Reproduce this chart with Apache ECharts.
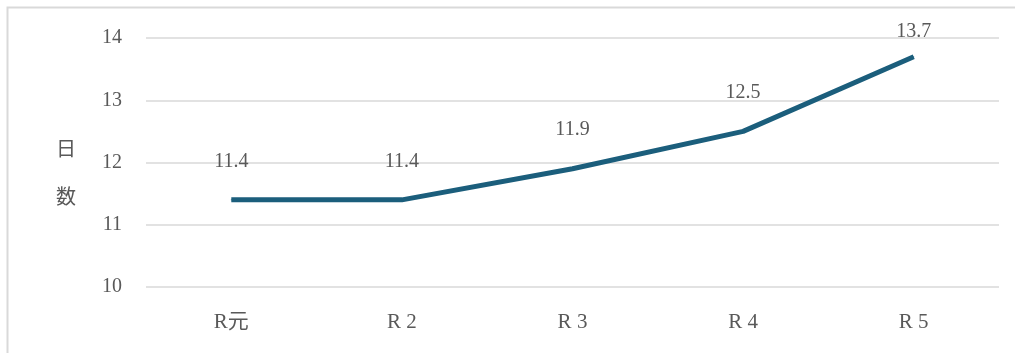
<!DOCTYPE html>
<html>
<head>
<meta charset="utf-8">
<script src="https://cdn.jsdelivr.net/npm/echarts@6/dist/echarts.min.js"></script>
<style>
  html, body { margin: 0; padding: 0; background: #fff; }
  #chart { position: absolute; left: 0; top: 0; width: 1015px; height: 353px; }
</style>
</head>
<body>
<div id="chart"></div>
<script>
  const categories = ['R元', 'R 2', 'R 3', 'R 4', 'R 5']
  const days = [11.4, 11.4, 11.9, 12.5, 13.7]
  const yTicks = [10, 11, 12, 13, 14]

  const font = '"Liberation Serif", "Noto Sans CJK JP", serif'
  const chart = echarts.init(document.getElementById('chart'))

  // labels near the top of the plot sit closer to the line (like Excel)
  const seriesData = days.map(v => v > 13.5 ? { value: v, label: { distance: 14 } } : v)

  chart.setOption({
    backgroundColor: '#fff',
    animation: false,
    graphic: [{
      type: 'rect',
      shape: { x: 7.5, y: 7.5, width: 1020, height: 360 },
      style: { fill: 'none', stroke: '#d9d9d9', lineWidth: 2 },
      silent: true
    }],
    grid: {
      left: 146,
      right: 16,
      top: 38,
      bottom: 66
    },
    xAxis: {
      type: 'category',
      data: categories,
      boundaryGap: true,
      axisLine: { show: false },
      axisTick: { show: false },
      axisLabel: {
        color: '#595959',
        fontFamily: font,
        fontSize: 21,
        margin: 25
      }
    },
    yAxis: {
      type: 'value',
      min: yTicks[0],
      max: yTicks[yTicks.length - 1],
      interval: 1,
      // leading blank line pushes the vertical name a bit lower
      name: '\n日\n\n数',
      nameLocation: 'middle',
      nameRotate: 0,
      nameGap: 70,
      nameTextStyle: {
        color: '#595959',
        fontFamily: font,
        fontSize: 20,
        lineHeight: 24
      },
      axisLine: { show: false },
      axisTick: { show: false },
      axisLabel: {
        color: '#595959',
        fontFamily: font,
        fontSize: 20,
        margin: 24
      },
      splitLine: {
        lineStyle: { color: '#d9d9d9', width: 1.5 }
      }
    },
    series: [{
      type: 'line',
      data: seriesData,
      symbol: 'circle',
      symbolSize: 1,
      itemStyle: { color: '#1b5e7c' },
      lineStyle: { color: '#1b5e7c', width: 5 },
      label: {
        show: true,
        position: 'top',
        distance: 28,
        color: '#595959',
        fontFamily: font,
        fontSize: 20,
        formatter(p) {
          return p.value.toFixed(1)
        }
      }
    }]
  })
</script>
</body>
</html>
